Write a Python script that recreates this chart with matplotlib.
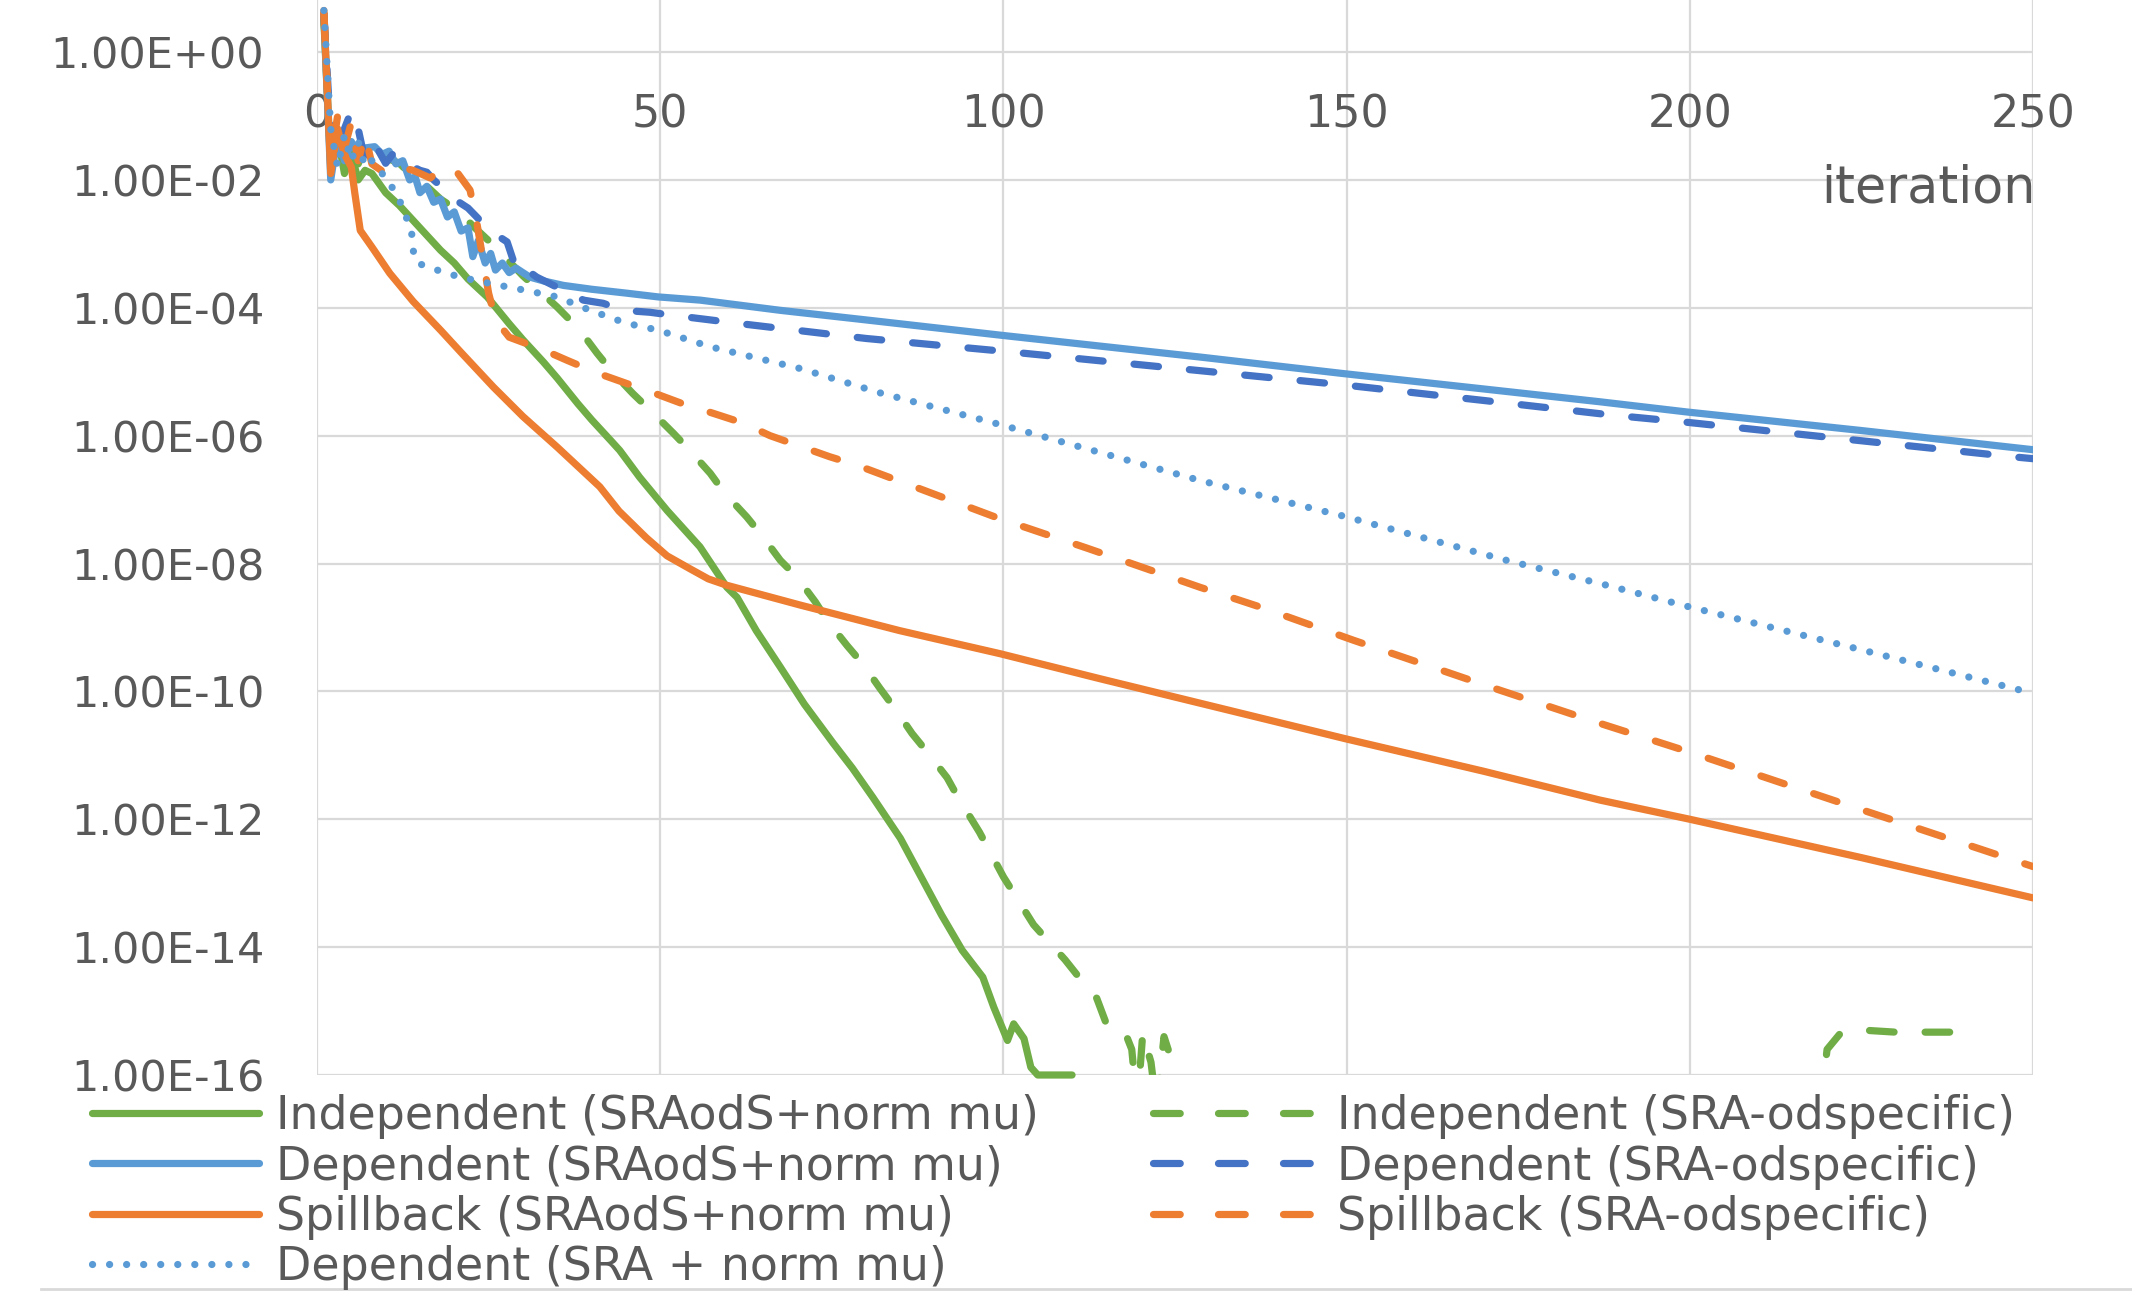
import matplotlib
matplotlib.use("Agg")
import matplotlib.pyplot as plt
import numpy as np
from matplotlib.lines import Line2D
from matplotlib.ticker import FixedLocator, FuncFormatter, NullLocator

plt.rcParams['font.family'] = ['DejaVu Sans']

# values, stored as log10(gap)
indep_norm_it = [1, 2, 3, 4, 5, 6, 7, 8, 10, 12, 15, 18, 20, 22, 24.8, 28, 30, 33, 35, 38, 40, 43,
                 44.1, 47, 51, 55.8, 59.7, 61.2, 64, 67.5, 71, 75.2, 78, 81, 85, 88, 91, 94, 97,
                 98.6, 100.6, 101.5, 103, 104, 105, 110]
indep_norm_log10 = [0.5, -1.8, -1.3, -1.9, -1.6, -2.0, -1.85, -1.9, -2.2, -2.4, -2.75, -3.1, -3.3,
                    -3.55, -3.83, -4.25, -4.5, -4.85, -5.1, -5.5, -5.75, -6.1, -6.23, -6.65, -7.17,
                    -7.74, -8.37, -8.53, -9.05, -9.62, -10.2, -10.81, -11.2, -11.66, -12.3, -12.9,
                    -13.5, -14.05, -14.47, -14.94, -15.46, -15.2, -15.43, -15.88, -16.0, -16.0]

indep_spec_it = [1, 2, 3, 4, 5, 6, 7, 8, 10, 12, 14, 16, 18, 20.4, 23, 26, 30, 35, 38.3, 40.8, 43,
                 46, 49, 51.9, 54.3, 57.3, 59.4, 62.6, 64.8, 67.5, 69.9, 72.6, 74.4, 77.2, 79.5,
                 82, 84.2, 86.7, 88.9, 91.8, 93.4, 96.5, 100, 104.4, 109, 111, 113.6, 115, 116.5,
                 117.6, 118.7, 119.5, 120.3, 121.5, 122.3, 123.4, 124.6, 125.3, 219, 220, 222,
                 225.5, 230, 235, 241]
indep_spec_log10 = [0.55, -1.6, -1.2, -1.7, -1.4, -1.75, -1.5, -1.6, -1.65, -1.74, -1.95, -2.1,
                    -2.3, -2.47, -2.75, -3.05, -3.5, -3.99, -4.35, -4.71, -5.0, -5.34, -5.65,
                    -5.96, -6.23, -6.59, -6.9, -7.27, -7.56, -7.95, -8.21, -8.6, -8.9, -9.28,
                    -9.57, -9.95, -10.27, -10.66, -10.95, -11.35, -11.66, -12.2, -12.9, -13.65,
                    -14.2, -14.47, -14.8, -15.2, -15.25, -15.3, -15.6, -16.5, -15.35, -15.8,
                    -16.5, -15.4, -15.8, -16.5, -16.5, -15.6, -15.34, -15.3, -15.33, -15.33,
                    -15.33]

dep_norm_it = [1, 2, 3, 4, 5, 6, 7, 8.4, 9.5, 10.5, 11.5, 12.5, 13.5, 14.3, 15, 16, 17, 18, 19,
               20, 21, 22, 22.7, 23.5, 24.5, 25.3, 26, 27, 28, 29, 31, 33, 35.9, 40, 45, 49.7,
               55.8, 67.5, 80, 99.7, 128.6, 149.6, 170, 186.9, 199.6, 225, 250]
dep_norm_log10 = [0.6, -2.0, -1.3, -1.7, -1.4, -1.6, -1.5, -1.48, -1.6, -1.55, -1.75, -1.7, -2.0,
                  -1.95, -2.2, -2.1, -2.35, -2.3, -2.58, -2.5, -2.8, -2.75, -3.2, -2.95, -3.3,
                  -3.15, -3.41, -3.3, -3.45, -3.38, -3.52, -3.58, -3.65, -3.71, -3.77, -3.83,
                  -3.88, -4.04, -4.19, -4.43, -4.77, -5.03, -5.27, -5.47, -5.63, -5.92, -6.22]

dep_spec_it = [1, 2, 3, 4, 5, 6, 7, 8, 9, 10, 11, 12, 13, 15, 16, 17, 19, 20, 22, 23, 24.8, 26,
               27.7, 28.6, 29.5, 30.6, 32, 33.5, 35, 37, 38.8, 41.7, 44.6, 48.5, 52, 55.8, 62.6,
               80, 101, 128.3, 149.9, 170, 188.8, 199.5, 225, 247, 250]
dep_spec_log10 = [0.6, -1.3, -1.7, -1.2, -0.92, -1.2, -1.7, -1.46, -1.55, -1.74, -1.6, -1.75,
                  -1.74, -1.85, -1.88, -2.0, -2.19, -2.3, -2.44, -2.55, -2.75, -2.85, -2.97,
                  -3.26, -3.2, -3.41, -3.52, -3.6, -3.68, -3.77, -3.88, -3.93, -4.04, -4.07,
                  -4.12, -4.17, -4.26, -4.48, -4.69, -4.98, -5.21, -5.45, -5.68, -5.79, -6.08,
                  -6.33, -6.36]

spill_norm_it = [1, 2, 3, 4, 5, 5.5, 6.3, 8, 10.6, 14, 18, 21, 25.7, 30, 35, 41.2, 44, 48, 51,
                 54.3, 57, 59.7, 70.4, 84.9, 99.5, 114, 130, 149.8, 170, 186.9, 200, 225, 250]
spill_norm_log10 = [0.65, -1.9, -1.2, -1.6, -1.8, -2.2, -2.79, -3.05, -3.46, -3.9, -4.35, -4.7,
                    -5.24, -5.7, -6.18, -6.8, -7.18, -7.6, -7.88, -8.08, -8.24, -8.34, -8.65,
                    -9.05, -9.41, -9.8, -10.22, -10.74, -11.25, -11.7, -12.0, -12.6, -13.23]

spill_spec_it = [1, 2, 3, 4, 5, 6, 7, 8, 10, 12, 14, 16.5, 18.5, 20.4, 22.3, 23.3, 25, 26, 28,
                 30.5, 33, 36.4, 40.8, 45, 49.5, 53, 57.7, 62, 66, 74.7, 78.6, 99.5, 112.2,
                 128.6, 137.4, 151, 172.3, 186.9, 200, 225, 250]
spill_spec_log10 = [0.6, -1.7, -1.0, -1.5, -1.1, -1.7, -1.3, -1.75, -1.9, -1.8, -1.85, -1.97,
                    -1.8, -1.88, -2.16, -2.68, -3.77, -4.19, -4.46, -4.56, -4.66, -4.82, -5.02,
                    -5.18, -5.35, -5.49, -5.65, -5.8, -6.0, -6.33, -6.46, -7.3, -7.76, -8.37,
                    -8.68, -9.2, -9.98, -10.5, -10.95, -11.85, -12.74]

dep_sra_it = [1, 2, 3, 4, 5, 6, 7, 8, 9, 10, 10.6, 12.5, 13.8, 14, 14.6, 17.5, 20.8, 25.2, 30,
              35, 39.8, 45, 49.7, 57.3, 70.4, 82, 99.3, 109.3, 128.6, 149.6, 173.3, 187.9, 200,
              225, 250]
dep_sra_log10 = [0.65, -1.2, -1.8, -1.3, -1.7, -1.4, -1.8, -1.7, -1.8, -2.0, -2.05, -2.42, -2.84,
                 -3.1, -3.3, -3.41, -3.52, -3.62, -3.72, -3.83, -4.04, -4.24, -4.35, -4.61,
                 -4.95, -5.33, -5.82, -6.12, -6.7, -7.26, -7.95, -8.34, -8.68, -9.35, -10.03]

labels = ['Independent (SRAodS+norm mu)', 'Independent (SRA-odspecific)',
          'Dependent (SRAodS+norm mu)', 'Dependent (SRA-odspecific)',
          'Spillback (SRAodS+norm mu)', 'Spillback (SRA-odspecific)',
          'Dependent (SRA + norm mu)']
y_ticks = [1e0, 1e-2, 1e-4, 1e-6, 1e-8, 1e-10, 1e-12, 1e-14, 1e-16]
x_ticks = [0, 50, 100, 150, 200, 250]

green = '#70AD47'
lblue = '#5B9BD5'
dblue = '#4472C4'
orange = '#ED7D31'
grey_txt = '#595959'
grid_c = '#D9D9D9'

lw = 5.2
dash = (0, (3.4, 4.3))
dash_leg = (0, (3.7, 5.3))
dots = (0, (0.01, 2.35))

W, H = 2132, 1294
fig = plt.figure(figsize=(W / 100, H / 100), dpi=100)
ax = fig.add_axes([317 / W, 1 - 1075 / H, 1716 / W, 1075 / H])
ax.set_yscale('log')

series = [
    (indep_norm_it, indep_norm_log10, green, '-'),
    (indep_spec_it, indep_spec_log10, green, dash),
    (dep_norm_it, dep_norm_log10, lblue, '-'),
    (dep_spec_it, dep_spec_log10, dblue, dash),
    (spill_norm_it, spill_norm_log10, orange, '-'),
    (spill_spec_it, spill_spec_log10, orange, dash),
    (dep_sra_it, dep_sra_log10, lblue, dots),
]
lines = []
leg_handles = []
for (its, lg, col, ls), lab in zip(series, labels):
    ln, = ax.plot(its, 10.0 ** np.array(lg), color=col, lw=lw, linestyle=ls, label=lab,
                  solid_capstyle='round', dash_capstyle='round', solid_joinstyle='round')
    lines.append(ln)
    # legend swatch, dashes tuned so three dashes fit the handle
    leg_handles.append(Line2D([], [], color=col, lw=lw,
                              linestyle=dash_leg if ls == dash else ls,
                              solid_capstyle='round', dash_capstyle='round', label=lab))
# flat part sits on the bottom axis, keep full thickness
lines[0].set_clip_on(False)

ax.set_xlim(0, 250)
ax.set_ylim(1e-16, 10 ** 0.814)
ax.yaxis.set_major_locator(FixedLocator(y_ticks))
ax.yaxis.set_minor_locator(NullLocator())
ax.yaxis.set_major_formatter(FuncFormatter(lambda v, p: f'{v:.2E}'))
ax.xaxis.set_major_locator(FixedLocator(x_ticks))
ax.grid(True, which='major', color=grid_c, lw=1.6)
ax.set_axisbelow(True)
for s in ax.spines.values():
    s.set_color('none')
ax.spines['bottom'].set_position(('data', 1.0))
ax.tick_params(axis='x', length=0, pad=29.5, labelsize=32, labelcolor=grey_txt)
ax.tick_params(axis='y', length=0, pad=38, labelsize=31, labelcolor=grey_txt)

ax.text(1.0017, 0.825, 'iteration', transform=ax.transAxes, ha='right', va='center',
        fontsize=36.5, color=grey_txt)

col1 = [leg_handles[0], leg_handles[2], leg_handles[4], leg_handles[6]]
col2 = [leg_handles[1], leg_handles[3], leg_handles[5]]
kw = dict(loc='upper left', frameon=False, fontsize=33, labelcolor=grey_txt,
          handlelength=3.65, handletextpad=0.37, borderpad=0, borderaxespad=0,
          labelspacing=0.12)
leg1 = fig.legend(handles=col1, labels=[h.get_label() for h in col1],
                  bbox_to_anchor=(92 / W, 1 - 1094 / H), **kw)
leg2 = fig.legend(handles=col2, labels=[h.get_label() for h in col2],
                  bbox_to_anchor=(1153 / W, 1 - 1094 / H), **kw)

fig.add_artist(Line2D([41 / W, 1.0], [1 - 1289 / H] * 2, transform=fig.transFigure,
                      color=grid_c, lw=2))

fig.savefig('out.png', dpi=100)
